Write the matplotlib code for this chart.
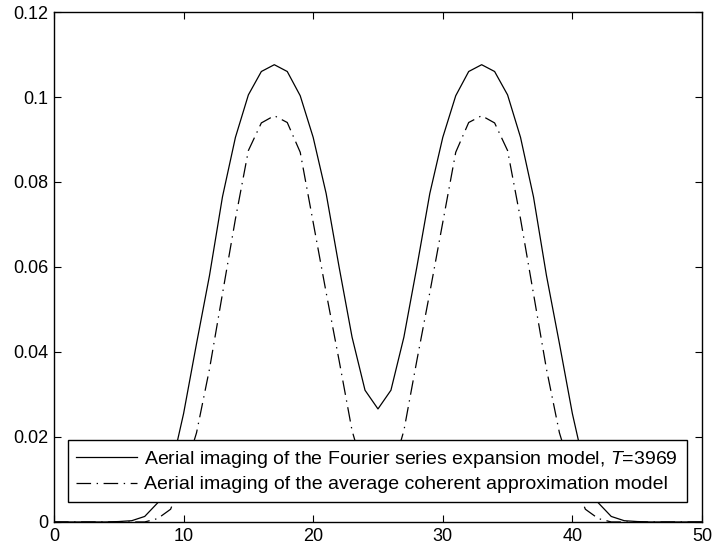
import numpy as np
import matplotlib
matplotlib.use("Agg")
import matplotlib.pyplot as plt

plt.rcParams['font.family'] = ['Liberation Sans', 'DejaVu Sans']
plt.rcParams['mathtext.fontset'] = 'custom'
plt.rcParams['mathtext.it'] = 'Liberation Sans:italic'
plt.rcParams['mathtext.rm'] = 'Liberation Sans'
plt.rcParams['lines.scale_dashes'] = False

# Sample position
x = np.arange(0, 51)

# Fourier series expansion model, T=3969
fourier = [0, 0, 0, 0, 0, 0.0001, 0.0003, 0.0013, 0.0045, 0.012,
           0.0255, 0.042, 0.058, 0.0765, 0.0905, 0.1005, 0.106, 0.1076, 0.106, 0.1003,
           0.0905, 0.0773, 0.060, 0.0435, 0.031, 0.0266, 0.031, 0.0435, 0.060, 0.0773,
           0.0905, 0.1003, 0.106, 0.1076, 0.106, 0.1005, 0.0905, 0.0765, 0.058, 0.042,
           0.0255, 0.012, 0.0045, 0.0013, 0.0003, 0.0001, 0, 0, 0, 0, 0]

# Average coherent approximation model
average = [0, 0, 0, 0, 0, 0, 0, 0, 0.0008, 0.003,
           0.011, 0.021, 0.036, 0.0537, 0.0713, 0.0874, 0.0939, 0.0956, 0.094, 0.087,
           0.0705, 0.054, 0.038, 0.0215, 0.011, 0.008, 0.011, 0.0215, 0.038, 0.054,
           0.0705, 0.087, 0.094, 0.0956, 0.0939, 0.0874, 0.0713, 0.0537, 0.036, 0.021,
           0.011, 0.003, 0.0008, 0, 0, 0, 0, 0, 0, 0, 0]

labels = ["Aerial imaging of the Fourier series expansion model, $T$=3969",
          "Aerial imaging of the average coherent approximation model"]

fig = plt.figure(figsize=(7.16, 5.56), dpi=100)
ax = fig.add_axes([0.0754, 0.0612, 0.905, 0.9172])

ax.plot(x, fourier, color="black", linewidth=0.9, linestyle="-", label=labels[0])
ax.plot(x, average, color="black", linewidth=0.9,
        linestyle=(0, (10.5, 4, 1, 4)), label=labels[1])

ax.set_xlim(0, 50)
ax.set_ylim(0, 0.12)
ax.set_xticks([0, 10, 20, 30, 40, 50])
ax.set_yticks([0, 0.02, 0.04, 0.06, 0.08, 0.1, 0.12])
ax.set_yticklabels(["0", "0.02", "0.04", "0.06", "0.08", "0.1", "0.12"])
ax.tick_params(direction="in", top=True, right=True, length=5, width=0.8,
               labelsize=13, pad=4)
for s in ax.spines.values():
    s.set_linewidth(1.0)

leg = ax.legend(loc="lower left", bbox_to_anchor=(0.021, 0.039), fontsize=14,
                frameon=True, fancybox=False, framealpha=1, edgecolor="black",
                handlelength=3.1, borderpad=0.45, labelspacing=0.3, handletextpad=0.4,
                borderaxespad=0)
leg.get_frame().set_linewidth(1.0)

plt.savefig("out.png", dpi=100)
